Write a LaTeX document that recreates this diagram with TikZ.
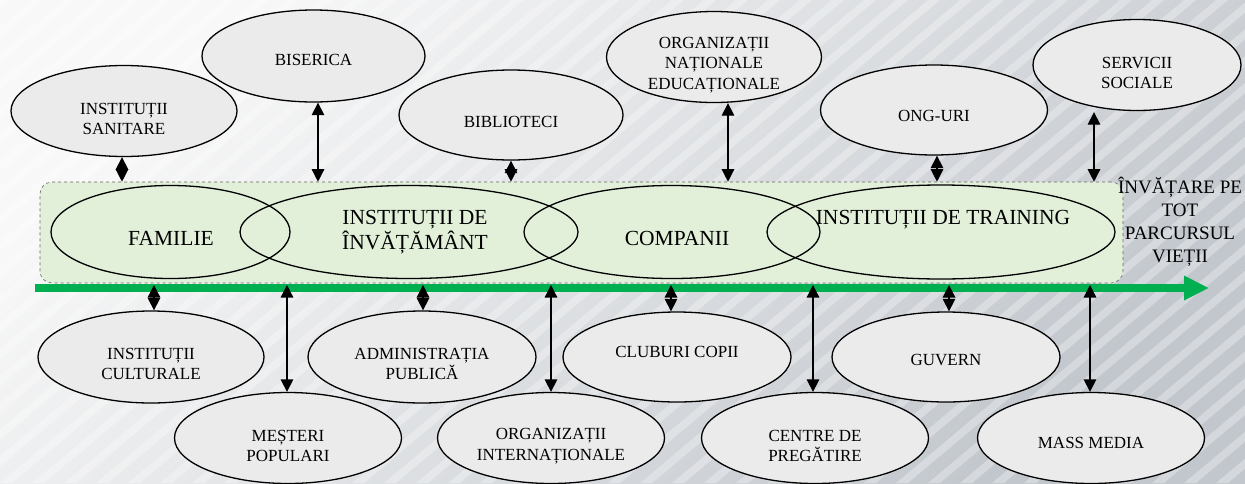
\documentclass[tikz,border=0pt]{standalone}
\usepackage{fontspec}
\setmainfont{Liberation Serif}
\usetikzlibrary{shapes.geometric,arrows.meta}
\definecolor{ellfill}{HTML}{EBEBEB}
\definecolor{boxfill}{HTML}{E2EFD9}
\definecolor{lgreen}{HTML}{00B050}
\definecolor{bgA}{HTML}{F8F8F8}
\definecolor{bgB}{HTML}{C2C7CD}
\begin{document}
\begin{tikzpicture}[x=1pt,y=-1pt,
  oval/.style={ellipse,draw=black,line width=1.3pt,fill=ellfill,inner sep=0pt},
  mainoval/.style={ellipse,draw=black,line width=1.3pt,inner sep=0pt},
  lbl/.style={font=\fontsize{17}{20.5}\selectfont,align=center,inner sep=0pt},
  mlbl/.style={font=\fontsize{21.5}{25}\selectfont,align=center,inner sep=0pt},
  llbl/.style={font=\fontsize{19}{23}\selectfont,align=center,inner sep=0pt},
  dar/.style={{Triangle[length=12.5pt,width=12.5pt]}-{Triangle[length=12.5pt,width=12.5pt]},line width=1.3pt}]
\useasboundingbox (0,0) rectangle (1245,483);
% background
\shade[top color=bgA,bottom color=bgB,shading angle=45] (0,0) rectangle (1245,483);
\begin{scope}
\clip (0,0) rectangle (1245,483);
\foreach \i in {-19,...,40} {
  \fill[white,opacity=0.3] (\i*32,483) -- ++(576,-483) -- ++(12,0) -- ++(-576,483) -- cycle;
}
\end{scope}
% lifelong band
\node[draw=black!60,dashed,line width=0.6pt,fill=boxfill,rounded corners=12pt,minimum width=1083pt,minimum height=101pt,inner sep=0pt] (box) at (581.5,232.5) {};
\coordinate (ls) at (35,288);
\coordinate (le) at (1209,288);
\draw[lgreen,line width=8pt,-{Triangle[length=25pt,width=23pt]}] (ls) -- (le);
\coordinate (gl) at (0,285);
% main ellipses
\node[mainoval,minimum width=239pt,minimum height=93pt] (fam) at (170.5,232) {};
\node[mainoval,minimum width=338pt,minimum height=93pt] (inv) at (409,232) {};
\node[mainoval,minimum width=296pt,minimum height=93pt] (comp) at (672,232) {};
\node[mainoval,minimum width=348pt,minimum height=94pt] (train) at (941,232) {};
\node[mlbl] (tfam) at (171,238) {FAMILIE};
\node[mlbl] (tinv) at (415,232.5) {INSTITUȚII DE\\ÎNVĂȚĂMÂNT};
\node[mlbl] (tcomp) at (677,238) {COMPANII};
\node[mlbl] (ttrain) at (943,220) {INSTITUȚII DE TRAINING};
\node[llbl] (tlife) at (1180,222) {ÎNVĂȚARE PE\\TOT\\PARCURSUL\\VIEȚII};
% top ellipses
\node[oval,minimum width=226pt,minimum height=91pt] (san) at (124,111) {};
\node[oval,minimum width=223pt,minimum height=92pt] (bis) at (313.5,56) {};
\node[oval,minimum width=224pt,minimum height=90pt] (bib) at (511,115) {};
\node[oval,minimum width=215pt,minimum height=91pt] (orgn) at (714,57) {};
\node[oval,minimum width=227pt,minimum height=90pt] (ong) at (934,110) {};
\node[oval,minimum width=208pt,minimum height=91pt] (serv) at (1137,65) {};
\node[lbl] (tsan) at ([yshift=-8pt]san.center) {INSTITUȚII\\SANITARE};
\node[lbl] (tbis) at ([yshift=-4pt]bis.center) {BISERICA};
\node[lbl] (tbib) at ([yshift=-7pt]bib.center) {BIBLIOTECI};
\node[lbl] (torgn) at ([yshift=-8pt]orgn.center) {ORGANIZAȚII\\NAȚIONALE\\EDUCAȚIONALE};
\node[lbl] (tong) at ([yshift=-6pt]ong.center) {ONG-URI};
\node[lbl] (tserv) at ([yshift=-8pt]serv.center) {SERVICII\\SOCIALE};
% bottom ellipses
\node[oval,minimum width=226pt,minimum height=92pt] (cult) at (151,357) {};
\node[oval,minimum width=227pt,minimum height=91pt] (mest) at (288,438) {};
\node[oval,minimum width=228pt,minimum height=92pt] (adm) at (422,357) {};
\node[oval,minimum width=227pt,minimum height=91pt] (orgi) at (551,438) {};
\node[oval,minimum width=228pt,minimum height=90pt] (club) at (677,357) {};
\node[oval,minimum width=227pt,minimum height=91pt] (centre) at (815,438) {};
\node[oval,minimum width=228pt,minimum height=90pt] (guv) at (946,357) {};
\node[oval,minimum width=227pt,minimum height=91pt] (mass) at (1091,438) {};
\node[lbl] (tcult) at ([yshift=-7pt]cult.center) {INSTITUȚII\\CULTURALE};
\node[lbl] (tmest) at ([yshift=-8pt]mest.center) {MEȘTERI\\POPULARI};
\node[lbl] (tadm) at ([yshift=-7pt]adm.center) {ADMINISTRAȚIA\\PUBLICĂ};
\node[lbl] (torgi) at ([yshift=-8pt]orgi.center) {ORGANIZAȚII\\INTERNAȚIONALE};
\node[lbl] (tclub) at ([yshift=5pt]club.center) {CLUBURI COPII};
\node[lbl] (tcentre) at ([yshift=-8pt]centre.center) {CENTRE DE\\PREGĂTIRE};
\node[lbl] (tguv) at ([yshift=-3pt]guv.center) {GUVERN};
\node[lbl] (tmass) at ([yshift=-5pt]mass.center) {MASS MEDIA};
% top connectors
\draw[dar] ([xshift=-2pt]san.south) -- ([xshift=-2pt]san.south |- box.north);
\draw[dar] ([xshift=4.5pt]bis.south) -- ([xshift=4.5pt]bis.south |- box.north);
\draw[dar] (bib.south) -- (bib.south |- box.north);
\draw[dar] ([xshift=14pt]orgn.south) -- ([xshift=14pt]orgn.south |- box.north);
\draw[dar] ([xshift=3pt]ong.south) -- ([xshift=3pt]ong.south |- box.north);
\draw[dar] ([xshift=-43pt,yshift=-1pt]serv.south) -- ([xshift=-43pt]serv.south |- box.north);
% bottom connectors
\draw[dar] ([xshift=3pt]cult.north) -- ([xshift=3pt]cult.north |- gl);
\draw[dar] ([xshift=-1pt]mest.north) -- ([xshift=-1pt]mest.north |- gl);
\draw[dar] ([xshift=1pt]adm.north) -- ([xshift=1pt]adm.north |- gl);
\draw[dar] (orgi.north) -- (orgi.north |- gl);
\draw[dar] ([xshift=-6pt]club.north) -- ([xshift=-6pt]club.north |- gl);
\draw[dar] ([xshift=-2pt]centre.north) -- ([xshift=-2pt]centre.north |- gl);
\draw[dar] ([xshift=3pt]guv.north) -- ([xshift=3pt]guv.north |- gl);
\draw[dar] ([xshift=-1pt]mass.north) -- ([xshift=-1pt]mass.north |- gl);
\end{tikzpicture}
\end{document}
